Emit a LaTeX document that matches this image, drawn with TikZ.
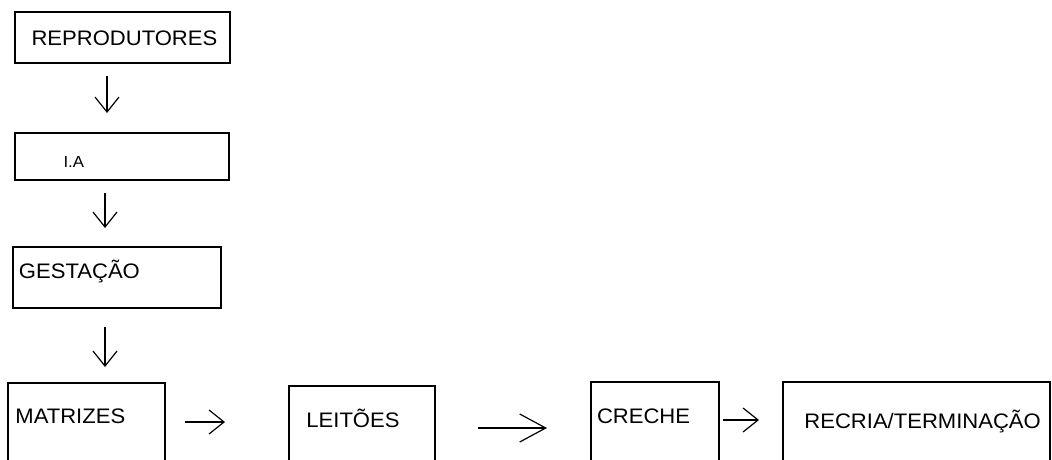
\documentclass[tikz,border=0pt]{standalone}
\usepackage{fontspec}
\setmainfont{Liberation Sans}[FakeStretch=1.05]
\usetikzlibrary{arrows.meta}

\begin{document}
\begin{tikzpicture}[x=1pt, y=1pt,
  box/.style={draw, line width=1.3pt, rectangle, inner sep=0pt, outer sep=0pt, anchor=north west},
  lbl/.style={inner sep=0pt, outer sep=0pt, anchor=base west, font=\fontsize{21}{25}\selectfont},
  small/.style={lbl, font=\fontsize{16}{19}\selectfont},
  arr/.style={line width=1.2pt, -{Straight Barb[length=15pt, width=24pt, line width=1.2pt]}},
  longarr/.style={line width=1.2pt, -{Straight Barb[length=26pt, width=28pt, line width=1.2pt]}}]

  \useasboundingbox (0,0) rectangle (1052,459);
  \clip (0,0) rectangle (1052,459);
  \fill[white] (0,0) rectangle (1052,459);

  % vertical chain
  \node[box, minimum width=215pt, minimum height=51pt] (repro) at (15,447) {};
  \node[lbl] (reprot) at (31.5,413) {REPRODUTORES};

  \node[box, minimum width=214pt, minimum height=47pt] (ia) at (15,326) {};
  \node[small] (iat) at (63.5,292) {I.A};

  \node[box, minimum width=208pt, minimum height=61pt] (gest) at (13,212) {};
  \node[lbl] (gestt) at (19,181) {GESTAÇÃO};

  % bottom row (boxes run past the lower edge)
  \node[box, minimum width=157pt, minimum height=86pt] (matr) at (8,76) {};
  \node[lbl] (matrt) at (15.4,36) {MATRIZES};

  \node[box, minimum width=146pt, minimum height=83pt] (leit) at (289,73) {};
  \node[lbl] (leitt) at (306.4,32) {LEITÕES};

  \node[box, minimum width=128pt, minimum height=87pt] (creche) at (591,77) {};
  \node[lbl] (crechet) at (597,36) {CRECHE};

  \node[box, minimum width=267pt, minimum height=87pt] (recria) at (783,77) {};
  \node[lbl] (recriat) at (804.4,31) {RECRIA/TERMINAÇÃO};

  % connectors
  \draw[arr] ([xshift=-15.5pt, yshift=-13pt]repro.south) -- ([xshift=-15pt, yshift=20pt]ia.north);
  \draw[arr] ([xshift=-17pt, yshift=-13pt]ia.south) -- ([xshift=-12pt, yshift=19pt]gest.north);
  \draw[arr] ([xshift=-12pt, yshift=-19pt]gest.south) -- ([xshift=18.5pt, yshift=16pt]matr.north);

  \draw[arr] ([xshift=20pt, yshift=-39pt]matr.north east) -- ([xshift=-64pt, yshift=-36pt]leit.north west);
  \draw[longarr] ([xshift=43pt, yshift=-42pt]leit.north east) -- ([xshift=-44pt, yshift=-46pt]creche.north west);
  \draw[arr] ([xshift=4pt, yshift=-38pt]creche.north east) -- ([xshift=-24pt, yshift=-38pt]recria.north west);
\end{tikzpicture}
\end{document}
